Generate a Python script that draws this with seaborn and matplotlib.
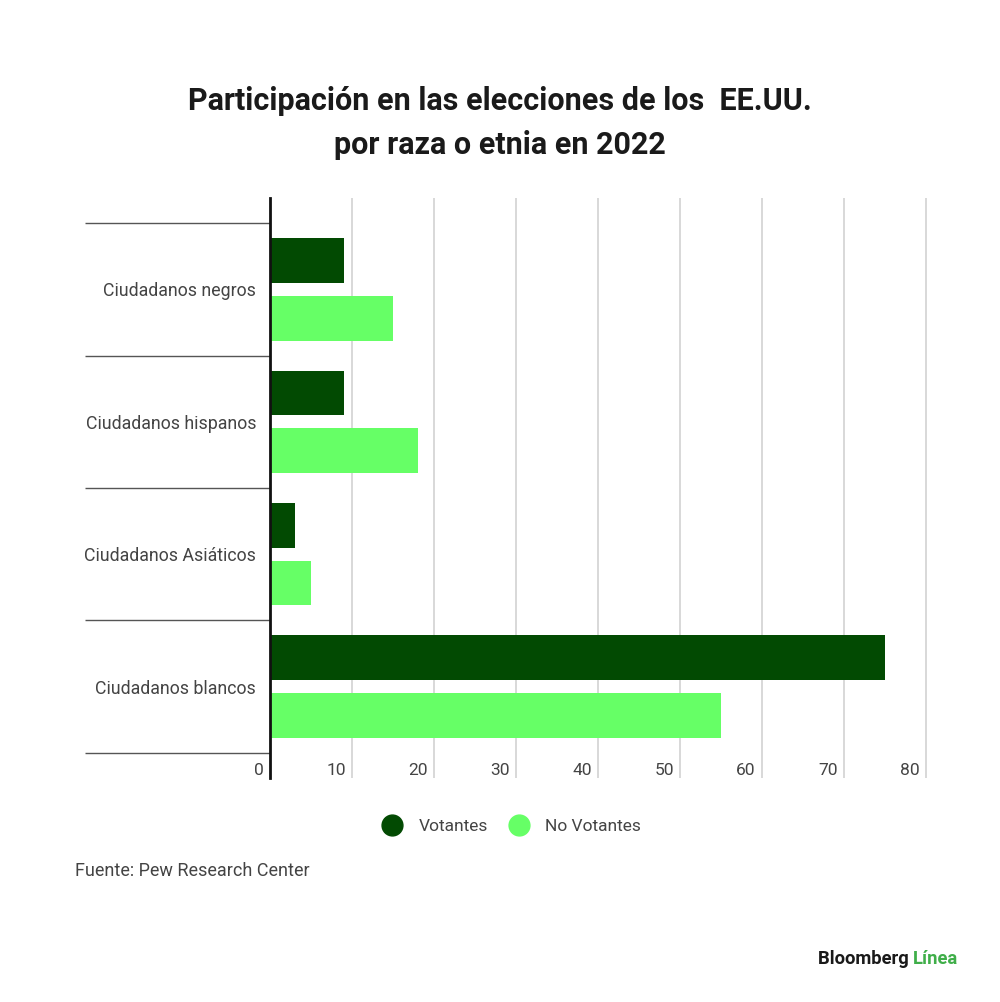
import matplotlib
matplotlib.use("Agg")
import matplotlib.pyplot as plt
import matplotlib.transforms as mtransforms
import seaborn as sns
import pandas as pd
from matplotlib.lines import Line2D

categories = ["Ciudadanos negros", "Ciudadanos hispanos", "Ciudadanos Asiáticos", "Ciudadanos blancos"]
votantes = [9, 9, 3, 75]
no_votantes = [15, 18, 5, 55]
series_names = ["Votantes", "No Votantes"]
x_ticks = [0, 10, 20, 30, 40, 50, 60, 70, 80]

title = "Participación en las elecciones de los  EE.UU.\npor raza o etnia en 2022"
source = "Fuente: Pew Research Center"

DARK = "#024a02"
LIGHT = "#66ff66"

df = pd.DataFrame({
    "categoria": categories * 2,
    "valor": votantes + no_votantes,
    "serie": [series_names[0]] * len(categories) + [series_names[1]] * len(categories),
})

sns.set_theme(style="white")
plt.rcParams["font.family"] = ["Roboto", "DejaVu Sans"]

fig = plt.figure(figsize=(10, 10.02), dpi=100)
ax = fig.add_axes([0.27, 1 - 778 / 1002, 0.664, (778 - 198) / 1002])

sns.barplot(data=df, y="categoria", x="valor", hue="serie", order=categories,
            hue_order=series_names, palette=[DARK, LIGHT], orient="h",
            width=0.87, gap=0.22, legend=False, ax=ax, saturation=1,
            linewidth=0, edgecolor="none")

ax.set_xlim(0, 81)
ax.set_ylim(3.69, -0.69)
ax.set_xlabel("")
ax.set_ylabel("")

ax.set_xticks(x_ticks)
ax.xaxis.grid(True, color="#d6d6d6", linewidth=1.3)
ax.yaxis.grid(False)
ax.set_axisbelow(True)

for s in ["top", "right", "bottom"]:
    ax.spines[s].set_visible(False)
ax.spines["left"].set_color("#111111")
ax.spines["left"].set_linewidth(2)

ax.tick_params(axis="x", length=0, pad=-10.5, labelsize=12.5, labelcolor="#444444")
shift = mtransforms.ScaledTranslation(-6 / 100, 0, fig.dpi_scale_trans)
for lbl in ax.get_xticklabels():
    lbl.set_horizontalalignment("right")
    lbl.set_transform(lbl.get_transform() + shift)

ax.set_yticks(range(len(categories)))
ax.set_yticklabels(categories)
ax.tick_params(axis="y", which="major", length=0, pad=10, labelsize=12.8, labelcolor="#444444")
ax.set_yticks([-0.5, 0.5, 1.5, 2.5, 3.5], minor=True)
ax.tick_params(axis="y", which="minor", length=133, width=1, color="#555555", left=True)

fig.text(0.5, 1 - 123 / 1002, title, ha="center", va="center", fontsize=22,
         fontweight="bold", color="#1a1a1a", linespacing=1.6)

handles = [Line2D([0], [0], marker="o", linestyle="none", markersize=15,
                  markerfacecolor=c, markeredgecolor=c) for c in [DARK, LIGHT]]
fig.legend(handles, series_names, loc="center", bbox_to_anchor=(0.508, 1 - 826 / 1002),
           ncol=2, frameon=False, fontsize=12.5, labelcolor="#444444",
           handletextpad=0.5, columnspacing=0.8)

fig.text(0.075, 1 - 871 / 1002, source, ha="left", va="center", fontsize=13, color="#444444")

t1 = fig.text(0.818, 1 - 959 / 1002, "Bloomberg ", ha="left", va="center", fontsize=13.2,
              fontweight="bold", color="#1a1a1a")
fig.canvas.draw()
bb = t1.get_window_extent()
fig.text(bb.x1 / fig.bbox.width, 1 - 959 / 1002, "Línea", ha="left", va="center",
         fontsize=13.2, fontweight="bold", color="#3fae49")

fig.savefig("out.png", dpi=100, facecolor="white")
